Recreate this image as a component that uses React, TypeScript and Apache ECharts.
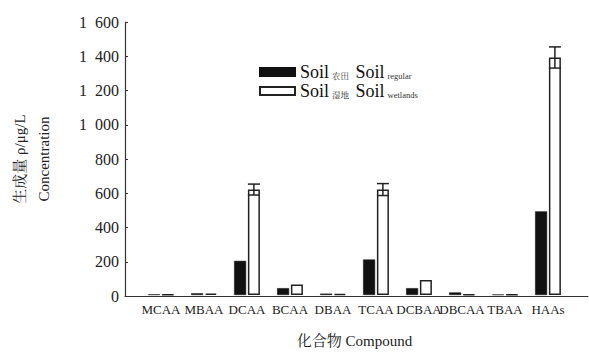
import React, { useEffect, useRef } from "react";
import * as echarts from "echarts";

const categories = ["MCAA", "MBAA", "DCAA", "BCAA", "DBAA", "TCAA", "DCBAA", "DBCAA", "TBAA", "HAAs"];
const regularValues = [4, 10, 200, 40, 8, 208, 40, 15, 3, 490];
const wetlandValues = [3, 8, 618, 62, 6, 618, 88, 4, 2, 1392];
const wetlandErrors = [0, 0, 32, 0, 0, 35, 0, 0, 0, 62];
const yTicks = [0, 200, 400, 600, 800, 1000, 1200, 1400, 1600];

const FONT = "'Liberation Serif', 'Noto Serif CJK SC', 'Noto Sans CJK SC', serif";

export default function App() {
  const ref = useRef<HTMLDivElement>(null);
  useEffect(() => {
    if (!ref.current) return;
    const chart = echarts.init(ref.current, null, { renderer: "svg" });
    const barW = 12;
    const gapPct = 15;
    const offset = (barW + (barW * gapPct) / 100) / 2;
    chart.setOption({
      animation: false,
      backgroundColor: "#fff",
      textStyle: { fontFamily: FONT },
      grid: [
        { left: 119, right: 1, top: 22, bottom: 57 },
        { left: 139.5, right: 19.5, top: 22, bottom: 57 },
      ],
      legend: {
        data: ["regular", "wetland"],
        orient: "vertical",
        left: 254,
        top: 58,
        itemWidth: 35,
        itemHeight: 8,
        itemGap: 1,
        icon: "rect",
        textStyle: {
          fontFamily: FONT,
          fontSize: 18,
          color: "#111",
          rich: {
            m: { fontFamily: FONT, fontSize: 18, color: "#111", lineHeight: 18 },
            s: { fontFamily: FONT, fontSize: 8.5, color: "#333", padding: [9, 2, 0, 3], lineHeight: 18 },
          },
        },
        formatter: (name: string) =>
          name === "regular"
            ? "{m|Soil}{s|农田} {m|Soil}{s|regular}"
            : "{m|Soil}{s|湿地} {m|Soil}{s|wetlands}",
      },
      xAxis: [
        {
          gridIndex: 0,
          type: "value",
          min: 0,
          max: 1,
          axisLine: { show: true, lineStyle: { color: "#333", width: 1.2 } },
          axisTick: { show: false },
          axisLabel: { show: false },
          splitLine: { show: false },
        },
        {
          gridIndex: 1,
          type: "category",
          data: categories,
          axisLine: { show: false },
          axisTick: { show: false },
          axisLabel: {
            interval: 0,
            margin: 8,
            fontFamily: FONT,
            fontSize: 13,
            color: "#222",
          },
          name: "化合物 Compound",
          nameLocation: "middle",
          nameGap: 38,
          nameTextStyle: { fontFamily: FONT, fontSize: 15, color: "#222" },
        },
      ],
      yAxis: [
        {
          gridIndex: 0,
          type: "value",
          min: 0,
          max: 1600,
          interval: 200,
          axisLine: { show: true, lineStyle: { color: "#333", width: 1.2 } },
          axisTick: { show: true, inside: true, length: 3, lineStyle: { color: "#333" } },
          splitLine: { show: false },
          axisLabel: {
            fontFamily: FONT,
            fontSize: 16,
            color: "#222",
            margin: 6,
            formatter: (v: number) =>
              v >= 1000 ? `${Math.floor(v / 1000)}\u2007${String(v % 1000).padStart(3, "0")}` : String(v),
          },
          name: "生成量 ρ/μg/L\nConcentration",
          nameLocation: "middle",
          nameRotate: 90,
          nameGap: 69,
          nameTextStyle: { fontFamily: FONT, fontSize: 15, color: "#222", lineHeight: 24 },
        },
        {
          gridIndex: 1,
          type: "value",
          min: 0,
          max: 1600,
          interval: 200,
          show: false,
        },
      ],
      series: [
        {
          name: "regular",
          type: "bar",
          xAxisIndex: 1,
          yAxisIndex: 1,
          data: regularValues,
          barWidth: barW,
          barGap: `${gapPct}%`,
          itemStyle: { color: "#111", borderColor: "#111", borderWidth: 0.5 },
        },
        {
          name: "wetland",
          type: "bar",
          xAxisIndex: 1,
          yAxisIndex: 1,
          data: wetlandValues,
          barWidth: barW,
          barGap: `${gapPct}%`,
          itemStyle: { color: "#fff", borderColor: "#222", borderWidth: 1.5 },
        },
        {
          name: "err",
          type: "custom",
          xAxisIndex: 1,
          yAxisIndex: 1,
          data: wetlandValues.map((v, i) => [i, v, wetlandErrors[i]]),
          renderItem: (params: any, api: any) => {
            const i = api.value(0);
            const v = api.value(1);
            const e = api.value(2);
            if (!e) return null;
            const top = api.coord([i, v + e]);
            const bot = api.coord([i, v - e]);
            const x = top[0] + offset;
            const cap = 6;
            const style = { stroke: "#222", lineWidth: 1.5 };
            return {
              type: "group",
              children: [
                { type: "line", shape: { x1: x, y1: top[1], x2: x, y2: bot[1] }, style },
                { type: "line", shape: { x1: x - cap, y1: top[1], x2: x + cap, y2: top[1] }, style },
                { type: "line", shape: { x1: x - cap, y1: bot[1], x2: x + cap, y2: bot[1] }, style },
              ],
            };
          },
          z: 5,
        },
      ],
    });
    return () => chart.dispose();
  }, []);
  return <div ref={ref} style={{ width: 589, height: 353, position: "absolute", left: 0, top: 0 }} />;
}
